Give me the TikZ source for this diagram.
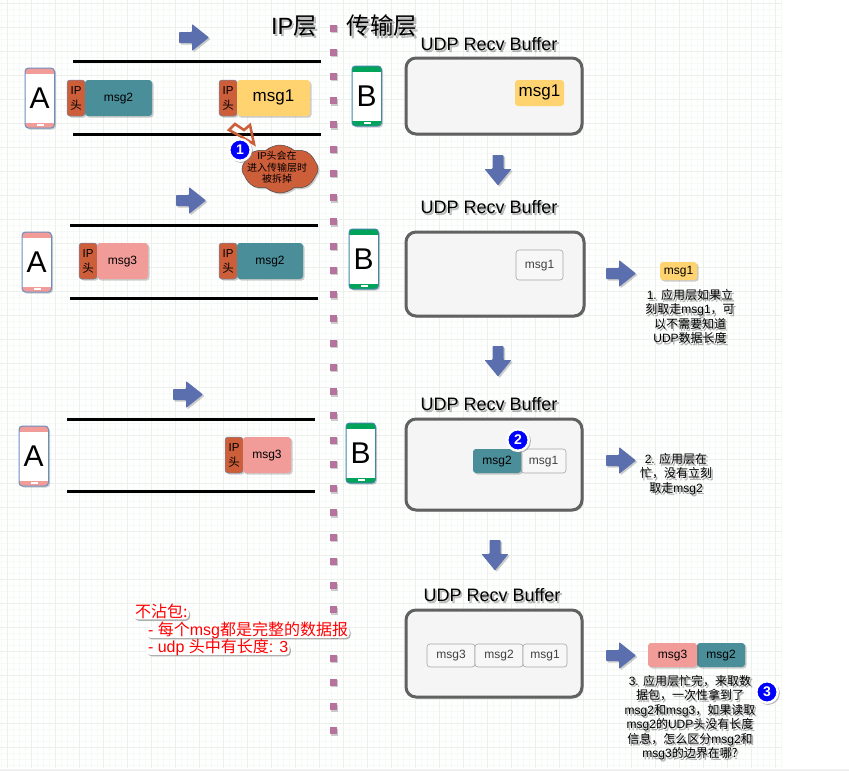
\documentclass[tikz,border=0pt]{standalone}
\usepackage{fontspec}
\setmainfont{Liberation Sans}
\newfontfamily\cjk{Noto Sans CJK SC}
\newfontfamily\softsans[FakeBold=2.5]{Liberation Sans}
\newfontfamily\softcjk[FakeBold=2.5]{Noto Sans CJK SC}
\usetikzlibrary{calc,shadows,shapes.symbols}
\definecolor{teal1}{HTML}{4A8E9A}
\definecolor{yel1}{HTML}{FFD470}
\definecolor{pink1}{HTML}{F19C99}
\definecolor{ip1}{HTML}{CC5E3A}
\definecolor{arr1}{HTML}{5B6FAE}
\definecolor{sq1}{HTML}{B5739D}
\definecolor{edgeb}{HTML}{6C8EBF}
\definecolor{green1}{HTML}{00A35A}
\definecolor{gridminor}{HTML}{F6FAF6}
\definecolor{gridmajor}{HTML}{EBF0EB}
\newcommand{\fs}[2]{\fontsize{#1}{#2}\selectfont}
\let\curcjk\cjk
\newcommand{\C}[1]{{\curcjk #1}}
\newcommand{\softmode}{\softsans\let\curcjk\softcjk}
\tikzset{
  softshadow/.style={drop shadow={shadow xshift=1.5pt,shadow yshift=-1.5pt,opacity=.28,fill=black!70}},
  plainbox/.style={rectangle,rounded corners=3pt,inner sep=0pt,outer sep=0pt,align=center,softshadow},
  iphead/.style={plainbox,fill=ip1,draw=edgeb!70!gray,line width=.5pt,font=\fs{11.5}{15}},
  tealbox/.style={plainbox,fill=teal1,font=\fs{12}{14},text height=.66em,text depth=0pt},
  yelbox/.style={plainbox,fill=yel1,font=\fs{17}{20},text height=.74em,text depth=0pt},
  yelflat/.style={rectangle,rounded corners=3pt,inner sep=0pt,outer sep=0pt,fill=yel1,font=\fs{17}{20},text height=.74em,text depth=0pt},
  yelsmall/.style={plainbox,fill=yel1,font=\fs{12}{14},text height=.66em,text depth=0pt},
  pinkbox/.style={plainbox,fill=pink1,font=\fs{12}{14},text height=.66em,text depth=0pt},
  whitebox/.style={rectangle,rounded corners=3pt,inner sep=0pt,outer sep=0pt,fill=black!3,draw=gray!70,line width=.6pt,text=black!75,font=\fs{12}{14},text height=.66em,text depth=0pt},
  buffer/.style={rectangle,rounded corners=10pt,draw=black!62,line width=3pt,fill=black!4,inner sep=0pt,softshadow},
  wire/.style={line width=3pt,black,softshadow},
  arrowst/.style={fill=arr1,rounded corners=.8pt,softshadow},
  sqdot/.style={fill=sq1,softshadow},
  badge/.style={circle,fill=blue,draw=white,line width=2.5pt,text=white,font=\fs{14}{14}\bfseries,minimum size=21.5pt,inner sep=0pt,drop shadow={shadow xshift=1pt,shadow yshift=-1pt,shadow scale=1.1,opacity=.55}},
  txtshadow/.style={text=black,text opacity=.2,execute at begin node=\softmode},
  title/.style={font=\fs{18}{20}},
  big/.style={font=\fs{23.5}{26}},
  note/.style={font=\fs{12}{14.5},align=center,inner sep=0pt},
  redt/.style={font=\fs{16}{18},anchor=west,text=red,fill=white,rounded corners=4pt,inner xsep=1.5pt,inner ysep=0pt,outer sep=0pt,text height=.88em,text depth=.2em,drop shadow={shadow xshift=1.2pt,shadow yshift=-1.4pt,opacity=.38,fill=black!80}},
}
\newcommand{\bx}[7]{\node[#6,minimum width={(#4-#2)*1pt},minimum height={(#5-#3)*1pt}] (#1) at ({(#2+#4)/2},{(#3+#5)/2}) {#7};}
\newcommand{\stxt}[5]{\node[#1,txtshadow] at ($(#3,#4)+(1.5,1.5)$) {#5};\node[#1] (#2) at (#3,#4) {#5};}
\newcommand{\rarr}[2]{\fill[arrowst,shift={(#1,#2)}] (0,8)--(13,8)--(13,0)--(30,13.5)--(13,27)--(13,19)--(0,19)--cycle;}
\newcommand{\darr}[2]{\fill[arrowst,shift={(#1,#2)}] (8,0)--(19,0)--(19,14)--(27,14)--(13.5,30.5)--(0,14)--(8,14)--cycle;}
\newcommand{\phone}[6]{%
  \fill[rounded corners=3.5pt,white,softshadow] (#2,#3) rectangle ++(29.5,60);
  \begin{scope}
    \clip[rounded corners=3.5pt] (#2,#3) rectangle ++(29.5,60);
    \fill[#4] (#2,#3) rectangle ++(29.5,5.5);
    \fill[#4] ($(#2,#3)+(0,54.5)$) rectangle ++(29.5,5.5);
    \fill[white] ($(#2,#3)+(11.5,56)$) rectangle ++(7,2.2);
  \end{scope}
  \draw[#5,line width=1pt,rounded corners=3.5pt] (#2,#3) rectangle ++(29.5,60);
  \node[font=\fs{30}{30},inner sep=0pt] (#1) at ($(#2,#3)+(14.75,30.5)$) {#6};
}
\begin{document}
\begin{tikzpicture}[x=1pt,y=-1pt]
\useasboundingbox (0,0) rectangle (849,771);
\fill[white] (0,0) rectangle (849,771);
% grid
\foreach \i in {0,...,130} \draw[gridminor,line width=.6pt] ({1.5+6*\i},0) -- ({1.5+6*\i},768);
\foreach \i in {0,...,127} \draw[gridminor,line width=.6pt] (0,{3.5+6*\i}) -- (782,{3.5+6*\i});
\foreach \i in {0,...,32} \draw[gridmajor,line width=.8pt] ({7.5+24*\i},0) -- ({7.5+24*\i},768);
\foreach \i in {0,...,31} \draw[gridmajor,line width=.8pt] (0,{3.5+24*\i}) -- (782,{3.5+24*\i});
\fill[black!6] (0,769) rectangle (849,771);
% divider
\foreach \i in {0,...,29} \fill[sqdot] ({329.5},{24.5+24.24*\i}) rectangle ++(7,7);
% titles
\stxt{big}{tip}{294}{26}{IP\C{层}}
\stxt{big}{ttr}{382}{26}{\C{传输层}}
% Row 1
\rarr{179}{24}
\draw[wire] (73,61.5) -- (321,61.5);
\draw[wire] (73,134) -- (321,134);
\phone{pa1}{25}{68}{pink1}{edgeb}{A}
\bx{h1a}{67}{80}{85}{116}{iphead}{IP\\\C{头}}
\bx{m1a}{85}{80}{152}{116}{tealbox}{msg2}
\bx{h1b}{219}{80}{237}{116}{iphead}{IP\\\C{头}}
\bx{m1b}{237}{80}{310}{116}{yelbox}{msg1}
\phone{pb1}{352}{66}{green1}{edgeb!60!teal}{B}
% callout
\draw[ip1,line width=2.6pt,line join=miter] (229,130) -- (235,124) -- (244,130) -- (250,125) -- (254,144) -- (240,136) -- cycle;
% cloud
\node[cloud,cloud puffs=8,cloud puff arc=85,aspect=1.6,fill=ip1,draw=black!70,line width=.5pt,minimum width=76pt,minimum height=48pt,inner sep=0pt,softshadow] (cl) at (280,169) {};
\node[font=\fs{10}{11.5},align=center,inner sep=0pt] (cltxt) at (277,167.5) {IP\C{头会在}\\\C{进入传输层时}\\\C{被拆掉}};
\node[badge] (b1) at (240,150) {1};
% buffer 1
\stxt{title}{t1}{489}{44}{UDP Recv Buffer}
\bx{b1box}{406}{58}{582}{134}{buffer}{}
\bx{b1m1}{515}{80}{564}{106}{yelflat}{msg1}
\darr{484.5}{155}
% Row 2
\rarr{176}{187}
\draw[wire] (70,225) -- (318,225);
\draw[wire] (70,298) -- (318,298);
\phone{pa2}{22}{232}{pink1}{edgeb}{A}
\bx{h2a}{79}{243}{97}{279}{iphead}{IP\\\C{头}}
\bx{m2a}{97}{243}{148}{279}{pinkbox}{msg3}
\bx{h2b}{219}{243}{237}{279}{iphead}{IP\\\C{头}}
\bx{m2b}{237}{243}{303}{279}{tealbox}{msg2}
\phone{pb2}{349}{229}{green1}{edgeb!60!teal}{B}
\stxt{title}{t2}{489}{207}{UDP Recv Buffer}
\bx{b2box}{406}{232}{584}{316}{buffer}{}
\bx{b2m1}{516}{250}{563}{280}{whitebox}{msg1}
\rarr{606}{260}
\bx{s1}{660}{262}{697}{280}{yelsmall}{msg1}
\stxt{note}{n1}{690}{316.5}{1. \C{应用层如果立}\\\C{刻取走}msg1\C{，可}\\\C{以不需要知道}\\UDP\C{数据长度}}
\darr{484.5}{346}
% Row 3
\rarr{173}{381}
\draw[wire] (67,419) -- (315,419);
\draw[wire] (67,491.5) -- (315,491.5);
\phone{pa3}{19}{426}{pink1}{edgeb}{A}
\bx{h3b}{225}{437}{243}{473}{iphead}{IP\\\C{头}}
\bx{m3b}{243}{437}{291}{473}{pinkbox}{msg3}
\phone{pb3}{346}{423}{green1}{edgeb!60!teal}{B}
\stxt{title}{t3}{489}{404}{UDP Recv Buffer}
\bx{b3box}{406}{419}{582}{510}{buffer}{}
\bx{b3m1}{521}{449}{566}{473}{whitebox}{msg1}
\bx{b3m2}{473}{449}{521}{473}{tealbox}{msg2}
\node[badge] (b2) at (518,440) {2};
\rarr{606}{447}
\stxt{note}{n2}{676}{474}{2. \C{应用层在}\\\C{忙，没有立刻}\\\C{取走}msg2}
\darr{481.5}{540}
% Row 4
\stxt{title}{t4}{492}{595}{UDP Recv Buffer}
\bx{b4box}{406}{610}{582}{697}{buffer}{}
\bx{b4m3}{427}{644}{475}{667}{whitebox}{msg3}
\bx{b4m2}{475}{644}{523}{667}{whitebox}{msg2}
\bx{b4m1}{523}{644}{567}{667}{whitebox}{msg1}
\rarr{606}{642}
\bx{s3b}{697}{643}{745}{667}{tealbox}{msg2}
\bx{s3a}{648}{643}{697}{667}{pinkbox}{msg3}
\stxt{note}{n3}{690}{717.5}{3. \C{应用层忙完，来取数}\\\C{据包，一次性拿到了}\\msg2\C{和}msg3\C{，如果读取}\\msg2\C{的}UDP\C{头没有长度}\\\C{信息，怎么区分}msg2\C{和}\\msg3\C{的边界在哪?}}
\node[badge] (b3) at (767,692) {3};
% red text
\node[redt] (r1) at (133.5,614) {\C{不沾包:}};
\node[redt] (r2) at (146.5,632.5) {- \C{每个}msg\C{都是完整的数据报}};
\node[redt] (r3) at (146.5,649.5) {- udp \C{头中有长度}: 3};
\end{tikzpicture}
\end{document}
